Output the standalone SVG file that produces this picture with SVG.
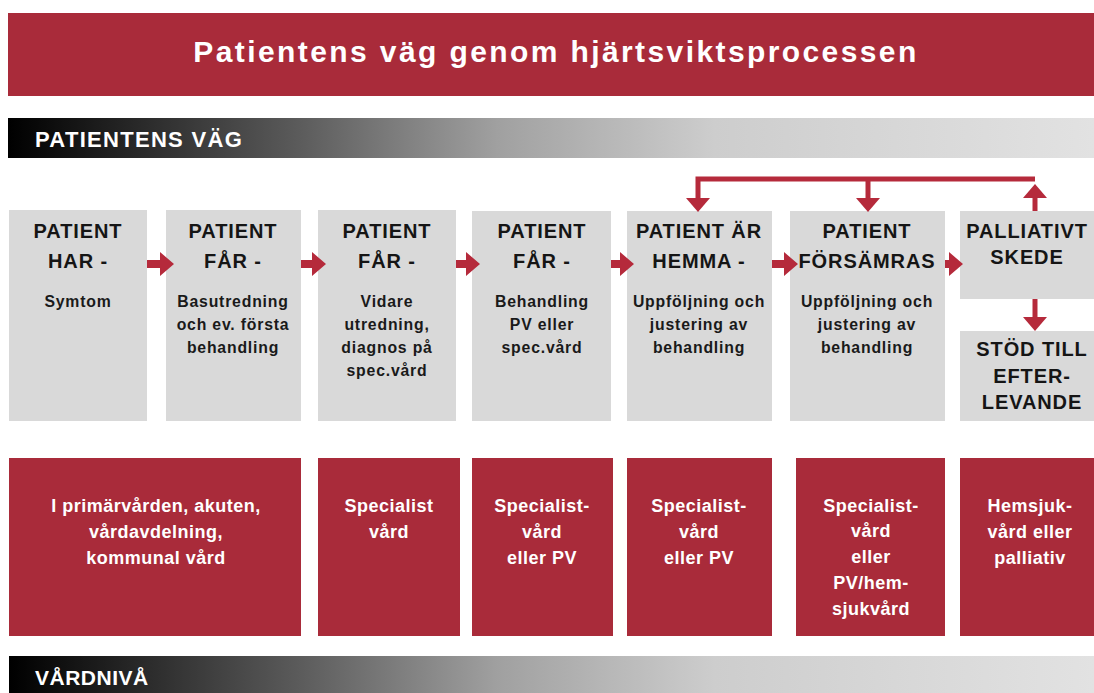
<svg xmlns="http://www.w3.org/2000/svg" width="1094" height="693" viewBox="0 0 1094 693">
<defs>
<linearGradient id="bar" x1="0" y1="0" x2="1" y2="0">
<stop offset="0" stop-color="#000"/>
<stop offset="0.03" stop-color="#0a0a0a"/>
<stop offset="0.27" stop-color="#5c5c5c"/>
<stop offset="0.45" stop-color="#a0a0a0"/>
<stop offset="0.65" stop-color="#cdcdcd"/>
<stop offset="1" stop-color="#e2e2e2"/>
</linearGradient>
<style>
.t{font-family:"Liberation Sans",Arial,sans-serif;font-weight:bold;text-anchor:middle}
.g{fill:#d9d9d9}
.r{fill:#a92b3a}
.h{font-size:20px;letter-spacing:0.9px;fill:#151515}
.s{font-size:15.8px;letter-spacing:0.8px;fill:#1a1a1a}
.w{font-size:18px;letter-spacing:0.5px;fill:#fff}
.bar{font-family:"Liberation Sans",Arial,sans-serif;font-weight:bold;fill:#fff}
.ar{fill:#b52a3b}
.ln{stroke:#b52a3b;stroke-width:5;fill:none}
</style>
</defs>
<rect width="1094" height="693" fill="#fff"/>
<g id="title">
<rect x="8" y="13" width="1086" height="83" fill="#a92b3a"/>
<text class="t" x="556" y="62" font-size="30" letter-spacing="2.4" fill="#fff">Patientens väg genom hjärtsviktsprocessen</text>
</g>
<g id="bar-patientens-vag">
<rect x="8" y="118" width="1086" height="40" fill="url(#bar)"/>
<text class="bar" x="35" y="147" font-size="22" letter-spacing="1.3">PATIENTENS VÄG</text>
</g>
<g id="n1"><rect class="g" x="9" y="210" width="138" height="211"/>
<text class="t h" x="78" y="238">PATIENT</text><text class="t h" x="78" y="268">HAR -</text>
<text class="t s" x="78" y="307">Symtom</text></g>
<g id="n2"><rect class="g" x="166" y="210" width="135" height="211"/>
<text class="t h" x="233" y="238">PATIENT</text><text class="t h" x="233" y="268">FÅR -</text>
<text class="t s" x="233" y="307">Basutredning</text><text class="t s" x="233" y="330">och ev. första</text><text class="t s" x="233" y="353">behandling</text></g>
<g id="n3"><rect class="g" x="318" y="210" width="138" height="211"/>
<text class="t h" x="387" y="238">PATIENT</text><text class="t h" x="387" y="268">FÅR -</text>
<text class="t s" x="387" y="307">Vidare</text><text class="t s" x="387" y="330">utredning,</text><text class="t s" x="387" y="353">diagnos på</text><text class="t s" x="387" y="376">spec.vård</text></g>
<g id="n4"><rect class="g" x="472" y="211" width="139" height="210"/>
<text class="t h" x="542" y="238">PATIENT</text><text class="t h" x="542" y="268">FÅR -</text>
<text class="t s" x="542" y="307">Behandling</text><text class="t s" x="542" y="330">PV eller</text><text class="t s" x="542" y="353">spec.vård</text></g>
<g id="n5"><rect class="g" x="627" y="211" width="145" height="210"/>
<text class="t h" x="699" y="238">PATIENT ÄR</text><text class="t h" x="699" y="268">HEMMA -</text>
<text class="t s" x="699" y="307">Uppföljning och</text><text class="t s" x="699" y="330">justering av</text><text class="t s" x="699" y="353">behandling</text></g>
<g id="n6"><rect class="g" x="790" y="211" width="155" height="210"/>
<text class="t h" x="867" y="238">PATIENT</text><text class="t h" x="867" y="268">FÖRSÄMRAS</text>
<text class="t s" x="867" y="307">Uppföljning och</text><text class="t s" x="867" y="330">justering av</text><text class="t s" x="867" y="353">behandling</text></g>
<g id="n7"><rect class="g" x="960" y="211" width="140" height="88"/>
<text class="t h" x="1027" y="238" font-size="19.5" letter-spacing="0.7">PALLIATIVT</text><text class="t h" x="1027" y="264" font-size="19.5" letter-spacing="0.7">SKEDE</text></g>
<g id="n8"><rect class="g" x="960" y="331" width="140" height="90"/>
<text class="t h" x="1032" y="356" font-size="19.5" letter-spacing="0.4">STÖD TILL</text><text class="t h" x="1032" y="383" font-size="19.5" letter-spacing="0.4">EFTER-</text><text class="t h" x="1032" y="409" font-size="19.5" letter-spacing="0.4">LEVANDE</text></g>
<g id="v1"><rect class="r" x="9" y="458" width="292" height="178"/>
<text class="t w" x="156" y="512">I primärvården, akuten,</text><text class="t w" x="156" y="538">vårdavdelning,</text><text class="t w" x="156" y="564">kommunal vård</text></g>
<g id="v2"><rect class="r" x="318" y="458" width="142" height="178"/>
<text class="t w" x="389" y="512">Specialist</text><text class="t w" x="389" y="538">vård</text></g>
<g id="v3"><rect class="r" x="472" y="458" width="141" height="178"/>
<text class="t w" x="542" y="512">Specialist-</text><text class="t w" x="542" y="538">vård</text><text class="t w" x="542" y="564">eller PV</text></g>
<g id="v4"><rect class="r" x="627" y="458" width="145" height="178"/>
<text class="t w" x="699" y="512">Specialist-</text><text class="t w" x="699" y="538">vård</text><text class="t w" x="699" y="564">eller PV</text></g>
<g id="v5"><rect class="r" x="796" y="458" width="149" height="178"/>
<text class="t w" x="871" y="512">Specialist-</text><text class="t w" x="871" y="537">vård</text><text class="t w" x="871" y="563">eller</text><text class="t w" x="871" y="589">PV/hem-</text><text class="t w" x="871" y="615">sjukvård</text></g>
<g id="v6"><rect class="r" x="960" y="458" width="140" height="178"/>
<text class="t w" x="1030" y="512">Hemsjuk-</text><text class="t w" x="1030" y="538">vård eller</text><text class="t w" x="1030" y="564">palliativ</text></g>
<g id="bar-vardniva">
<rect x="9" y="656" width="1085" height="37" fill="url(#bar)"/>
<text class="bar" x="35" y="685" font-size="21" letter-spacing="0.5">VÅRDNIVÅ</text>
</g>
<g id="connectors">
<polygon class="ar" points="147,260 160,260 160,252 174,264 160,276 160,268 147,268"/>
<polygon class="ar" points="301,260 312,260 312,252 326,264 312,276 312,268 301,268"/>
<polygon class="ar" points="456,260 466,260 466,252 480,264 466,276 466,268 456,268"/>
<polygon class="ar" points="611,260 620,260 620,252 634,264 620,276 620,268 611,268"/>
<polygon class="ar" points="772,260 784,260 784,252 798,264 784,276 784,268 772,268"/>
<polygon class="ar" points="945,260 949,260 949,252 963,264 949,276 949,268 945,268"/>
<path class="ln" d="M698,199 V179 H1035"/>
<path class="ln" d="M868,179 V199"/>
<polygon class="ar" points="686,198 710,198 698,212"/>
<polygon class="ar" points="856,198 880,198 868,212"/>
<path class="ln" d="M1035,211 V196"/>
<polygon class="ar" points="1023,198 1047,198 1035,184"/>
<path class="ln" d="M1035,299 V319"/>
<polygon class="ar" points="1023,317 1047,317 1035,331"/>
</g>
</svg>
